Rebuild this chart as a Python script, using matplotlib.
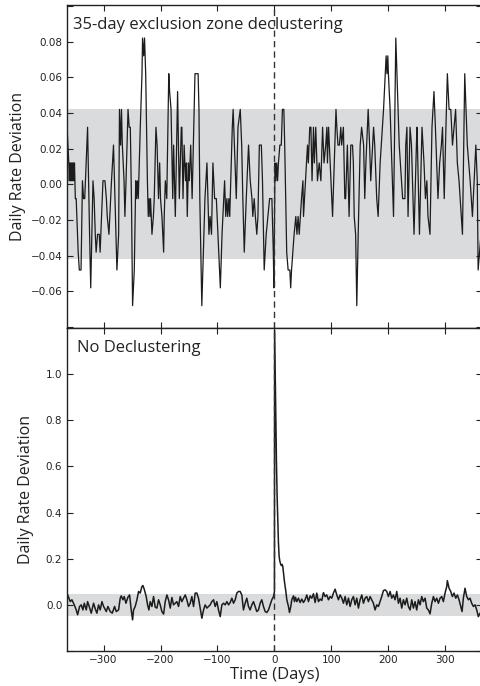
import matplotlib
matplotlib.use('Agg')
import matplotlib.pyplot as plt
import numpy as np

# day offsets relative to the mainshock (day 0) and rate deviations
# declustered catalogue (35-day exclusion zone)
top_days = [-364, -362.5, -361, -360, -359, -358, -357, -356, -355, -354, -353, -352, -351,
            -349.5, -348, -344.5, -342.5, -339.5, -337, -335, -333, -328, -324.5, -322.5,
            -318.5, -316.5, -314.5, -313, -310.5, -307.5, -306, -301, -297.5, -295, -293.5,
            -290.5, -286, -282.5, -280, -278.5, -276.5, -275, -273.5, -272, -270, -268.5,
            -267, -264, -262.5, -260.5, -257, -255, -253, -251, -249, -246, -243.5, -242,
            -240.5, -239, -235.5, -232.5, -231.5, -229.5, -228, -226, -223, -221.5, -220,
            -218.5, -217.5, -215, -212.5, -211, -208, -206, -203.5, -201.5, -200, -197.5,
            -196, -194.5, -193.5, -191.5, -189, -185.5, -184, -181.5, -178.5, -177, -174,
            -170, -167, -163.5, -162.5, -160.5, -158.5, -156, -154.5, -153, -151, -149.5,
            -147, -144.5, -139.5, -137, -134, -132.5, -131, -127.5, -122, -118.5, -115,
            -113, -110.5, -108, -105, -102, -95, -92, -89, -87.5, -85.5, -83.5, -82, -80,
            -78.5, -74, -72.5, -67, -64, -60, -57.5, -55.5, -53, -49.5, -45.5, -42.5,
            -39.5, -38, -35.5, -33.5, -31, -29, -26.5, -23, -21, -18, -14.5, -11.5, -8.5,
            -4.5, -2, -1, 1, 2.5, 4, 5.5, 7, 9.5, 12, 14, 16.5, 18, 21.5, 24, 27, 28.5, 30,
            34.5, 37.5, 39.5, 41.5, 43.5, 45.5, 47.5, 50, 51, 58, 59.5, 62, 64, 66, 68.5,
            70, 72.5, 75.5, 78.5, 81.5, 84.5, 87, 90, 92, 93, 95, 102, 108, 109.5, 111.5,
            114, 116.5, 118, 121, 123.5, 125, 128, 131, 134, 137, 138.5, 140, 142.5, 144.5,
            147, 150.5, 153, 156.5, 158.5, 160.5, 164.5, 167, 169, 174, 176, 179.5, 182,
            185.5, 191.5, 194.5, 196, 197.5, 199, 200, 203, 209, 213, 217, 219, 225, 229,
            230.5, 232.5, 234.5, 238, 240.5, 245, 250, 251, 254.5, 259, 262.5, 265, 267.5,
            269.5, 273, 276.5, 280, 282.5, 287, 290, 293, 295, 298, 301, 303.5, 306.5,
            309.5, 312.5, 318, 321, 324, 330, 334, 338.5, 343.5, 347.5, 350.5, 353.5, 356,
            357.5, 365]
top_vals = [0.032, 0.022, 0.012, 0.002, 0.012, 0.002, 0.012, 0.002, 0.012, 0.002, 0.012, 0.002, 0.012,
            -0.008, -0.008, -0.038, -0.048, -0.048, 0.002, -0.008, -0.008, 0.032, -0.028, -0.058,
            0.002, -0.008, -0.028, -0.038, -0.028, -0.028, -0.038, 0.002, 0.002, -0.008, -0.018,
            -0.028, 0.002, 0.022, -0.008, -0.028, -0.048, -0.038, -0.028, 0.042, 0.022, 0.042,
            0.022, 0.002, -0.018, 0.002, 0.042, 0.032, 0.032, -0.008, -0.068, -0.048, 0.002, -0.008,
            0.002, -0.008, 0.032, 0.062, 0.082, 0.072, 0.082, 0.062, 0.002, -0.018, -0.008,
            -0.018, -0.008, -0.028, -0.018, -0.008, 0.032, 0.022, -0.008, 0.012, -0.008, -0.018,
            -0.028, -0.038, -0.018, 0.002, -0.008, 0.062, 0.052, 0.042, -0.008, 0.022, -0.018,
            0.052, -0.008, 0.032, 0.032, -0.008, 0.022, 0.002, 0.012, -0.018, 0.012, 0.002,
            0.022, -0.008, 0.062, 0.062, 0.062, 0.042, -0.008, -0.068, -0.008, 0.012, -0.028,
            -0.018, -0.028, 0.012, -0.008, -0.008, -0.058, -0.028, -0.008, 0.002, -0.018, -0.008, -0.018, -0.008,
            -0.018, 0.032, 0.042, -0.008, 0.032, 0.042, 0.022, -0.008, -0.038, -0.008, 0.022, 0.002,
            -0.008, -0.018, -0.008, -0.018, -0.028, -0.018, 0.022, 0.022, 0.002, -0.048, -0.028, -0.018, -0.008,
            -0.008, -0.038, -0.058, 0.012, 0.002, 0.012, 0.002, 0.012, 0.022, 0.022, 0.042, 0.042, 0.022, -0.038, -0.048, -0.048, -0.058, -0.048,
            -0.028, -0.018, -0.028, -0.018, -0.028, -0.018, -0.008, 0.002, -0.018, 0.022, 0.012, 0.032, 0.032, 0.002, 0.032,
            0.012, 0.032, 0.002, 0.012, 0.002, 0.032, 0.012, 0.022, 0.032, 0.012, 0.032, -0.018, 0.042, 0.032, 0.022,
            0.022, 0.032, 0.022, 0.032, -0.008, -0.008, 0.022, -0.018, 0.022, 0.022, 0.012, -0.018, -0.028, -0.068,
            -0.028, 0.022, 0.032, 0.022, -0.008, 0.012, 0.042, 0.022, 0.002, 0.032, 0.022, -0.008, -0.018,
            0.012, 0.042, 0.062, 0.072, 0.062, 0.072, 0.062, 0.042, -0.018, 0.082, 0.042, 0.022, -0.008, -0.008,
            0.022, 0.032, -0.018, 0.032, 0.022, -0.028, 0.032, 0.022, -0.028, 0.032, 0.012, -0.008, 0.002,
            -0.018, -0.028, 0.032, 0.052, 0.032, -0.008, 0.012, 0.022, 0.032, -0.008, 0.032, 0.062, 0.042,
            0.042, 0.022, 0.042, 0.012, 0.002, -0.028, 0.062, 0.022, 0.002, -0.018, 0.002, 0.022, 0.002,
            -0.048, -0.018]

# full catalogue, no declustering
bot_days = [-364.2, -358.4, -355.5, -351.4, -347.9, -345.5, -342.0, -339.1, -336.2, -333.8, -330.3,
            -328.0, -325.1, -321.6, -317.5, -313.9, -311.6, -308.7, -305.8, -302.8, -299.9, -295.2,
            -292.3, -288.2, -284.7, -280.6, -277.7, -273.6, -270.7, -268.9, -266.0, -263.7, -260.7,
            -257.2, -254.3, -251.4, -249.0, -247.3, -244.4, -241.4, -238.5, -235.6, -232.7, -230.9,
            -228.6, -225.1, -222.7, -220.4, -218.0, -215.1, -212.2, -209.3, -206.3, -203.4, -200.5,
            -197.6, -194.6, -191.7, -188.8, -185.9, -182.9, -180.0, -177.1, -174.2, -171.3, -168.3,
            -165.4, -162.5, -159.6, -156.6, -153.7, -150.8, -147.9, -145.0, -142.0, -139.1, -136.2,
            -133.3, -130.3, -127.4, -124.5, -121.6, -118.6, -115.7, -112.8, -109.9, -106.9, -104.0,
            -101.1, -98.2, -95.2, -92.3, -89.4, -86.5, -83.5, -80.6, -77.7, -74.8, -71.8, -68.9,
            -66.0, -63.1, -60.2, -57.3, -54.4, -51.4, -48.5, -45.6, -42.7, -39.7, -36.8, -33.9,
            -31.0, -28.0, -25.1, -22.2, -19.3, -16.3, -13.4, -10.5, -7.6, -4.6, -1.7, 0.0,
            0.3, 1.2, 2.4, 3.5, 4.7, 5.9, 7.0, 8.2, 9.4, 11.1, 12.3, 13.5, 14.7, 15.8, 17.6,
            19.9, 21.7, 24.6, 26.4, 28.7, 30.4, 33.4, 35.1, 36.9, 39.2, 42.1, 45.1, 48.0, 50.9,
            53.8, 56.8, 59.7, 62.6, 65.5, 68.5, 71.4, 74.3, 77.2, 80.2, 83.1, 86.0, 88.9, 91.8,
            94.8, 97.7, 100.6, 103.5, 106.5, 109.4, 112.3, 115.2, 118.2, 121.1, 124.0, 126.9,
            129.9, 132.8, 135.7, 138.6, 141.6, 144.5, 147.4, 150.3, 153.3, 156.2, 159.1, 162.0,
            165.0, 167.9, 170.8, 173.7, 176.6, 179.6, 182.5, 185.4, 188.3, 191.3, 194.2, 197.1,
            200.0, 203.0, 205.9, 208.8, 211.7, 214.7, 217.6, 220.5, 223.4, 226.4, 229.3, 232.2,
            235.1, 238.1, 241.0, 243.9, 246.8, 249.7, 252.7, 255.6, 258.5, 261.4, 264.4, 267.3,
            270.2, 273.1, 276.1, 279.0, 281.9, 284.8, 287.8, 290.7, 293.6, 296.5, 299.4, 302.4,
            303.5, 306.5, 309.4, 312.3, 315.2, 318.2, 321.1, 324.0, 326.9, 329.3, 331.6, 334.5,
            337.5, 340.4, 343.3, 346.2, 349.2, 352.1, 355.0, 357.9, 360.9, 365.0]
bot_vals = [0.051, 0.014, 0.022, 0.0, -0.022, -0.043, -0.007, 0.0, -0.022, 0.007, -0.022,
            0.014, -0.007, -0.036, 0.007, -0.022, -0.036, 0.0, -0.022, 0.014, -0.007, -0.029,
            -0.007, -0.029, -0.036, -0.007, -0.029, -0.022, 0.029, 0.039, 0.022, 0.036, 0.007,
            0.033, 0.043, -0.022, -0.065, -0.022, -0.007, 0.022, 0.058, 0.051, 0.079, 0.084,
            0.068, 0.036, 0.0, -0.022, 0.014, -0.007, 0.036, -0.010, -0.014, 0.022, 0.0,
            -0.029, -0.040, 0.014, 0.043, 0.022, -0.014, 0.032, 0.0, 0.007, 0.014, -0.007,
            0.036, 0.014, 0.029, 0.043, 0.022, -0.007, 0.007, 0.036, -0.007, 0.051, 0.051,
            0.029, -0.014, -0.058, -0.022, 0.0, -0.014, -0.007, 0.0, 0.014, 0.022, -0.007,
            0.014, -0.022, -0.051, 0.0, 0.007, 0.0, 0.014, 0.0, 0.010, 0.029, 0.007, 0.022,
            0.051, 0.058, 0.058, 0.043, -0.022, 0.007, 0.029, -0.007, -0.022, 0.0, 0.014, -0.007,
            -0.029, -0.022, 0.007, 0.022, -0.007, -0.029, -0.033, -0.022, 0.0, 0.022, 0.036, 0.058,
            1.19, 1.02, 0.80, 0.62, 0.47, 0.36, 0.27, 0.21, 0.19, 0.175, 0.17, 0.175, 0.165, 0.14, 0.10,
            0.06, 0.022, -0.007, -0.033, -0.007, 0.022, 0.039, 0.014, 0.033, 0.014, 0.029, 0.010, 0.025, 0.010,
            0.022, 0.043, 0.014, 0.039, 0.029, 0.048, 0.010, 0.051, 0.014, 0.025, 0.019, 0.053, 0.036, 0.043,
            0.022, 0.036, 0.029, 0.051, 0.068, 0.043, 0.022, 0.043, 0.029, 0.007, 0.036, 0.0,
            0.029, -0.007, 0.022, 0.036, 0.0, 0.029, -0.014, 0.022, 0.043, 0.007, 0.029, 0.036,
            0.014, 0.036, 0.022, 0.007, -0.022, 0.0, -0.007, 0.014, 0.036, 0.062, 0.065, 0.058,
            0.036, 0.058, 0.029, 0.043, 0.022, 0.058, 0.007, 0.029, -0.014, 0.022, 0.0, 0.029,
            -0.007, -0.022, 0.022, -0.014, 0.014, -0.022, 0.022, 0.0, 0.036, 0.014, 0.029, -0.014,
            -0.022, -0.039, 0.007, 0.036, 0.014, 0.029, 0.007, 0.029, 0.036, 0.014, 0.051, 0.079,
            0.105, 0.072, 0.058, 0.036, 0.051, 0.029, 0.043, 0.022, -0.007, -0.029, 0.029, 0.072,
            0.036, 0.022, 0.029, 0.007, -0.007, 0.0, -0.022, -0.051, -0.036, -0.040]

# +/- one standard deviation envelopes
top_band = 0.042
bot_band = 0.047

xticks = [-300, -200, -100, 0, 100, 200, 300]
top_yticks = [-0.08, -0.06, -0.04, -0.02, 0.00, 0.02, 0.04, 0.06, 0.08, 0.10]
bot_yticks = [-0.2, 0.0, 0.2, 0.4, 0.6, 0.8, 1.0, 1.2]

label_font = 'Open Sans'
ink = '#222222'


def minus(s):
    return s.replace('-', '\u2212')


fig = plt.figure(figsize=(4.8, 6.86), dpi=100)
left = 66.5 / 480
width = (482.4 - 66.5) / 480
ax1 = fig.add_axes([left, 1 - 328 / 686, width, 323 / 686])
ax2 = fig.add_axes([left, 1 - 651 / 686, width, 323 / 686], sharex=ax1)

for ax, days, vals, band, yticks, ylim, lw, fmt, lab_x in [
        (ax1, top_days, top_vals, top_band, top_yticks, (-0.0805, 0.1005), 0.9, '{:.2f}', -0.097),
        (ax2, bot_days, bot_vals, bot_band, bot_yticks, (-0.2, 1.2), 1.1, '{:.1f}', -0.078)]:
    ax.axhspan(-band, band, color='#dadbdc', lw=0, zorder=0)
    ax.plot(days, vals, color='#1c1c1c', lw=lw, zorder=2)
    ax.axvline(0, color='#333333', lw=1.0, ls=(0, (4.5, 3)), zorder=3)
    ax.set_xlim(-365, 365)
    ax.set_ylim(*ylim)
    ax.set_yticks(yticks)
    # edge labels are dropped so the stacked panels don't collide
    ax.set_yticklabels([''] + [minus(fmt.format(t)) for t in yticks[1:-1]] + [''])
    ax.set_xticks(xticks)
    ax.tick_params(direction='in', top=True, right=True, length=4, width=0.8,
                   labelsize=7.5, colors=ink, labelcolor=ink, pad=3)
    for s in ax.spines.values():
        s.set_color(ink)
        s.set_linewidth(1.0)
    ax.set_ylabel('Daily Rate Deviation', family=label_font, fontsize=11.5, color=ink)
    ax.yaxis.set_label_coords(lab_x, 0.5)

ax1.tick_params(labelbottom=False)
ax2.set_xticklabels([minus(str(t)) for t in xticks])
ax2.set_xlabel('Time (Days)', family=label_font, fontsize=12, color=ink, labelpad=1)

ax1.text(0.016, 0.962, '35-day exclusion zone declustering', transform=ax1.transAxes,
         family=label_font, fontsize=12, color=ink, va='top', ha='left')
ax2.text(0.026, 0.962, 'No Declustering', transform=ax2.transAxes,
         family=label_font, fontsize=12, color=ink, va='top', ha='left')

plt.savefig('out.png', dpi=100)
